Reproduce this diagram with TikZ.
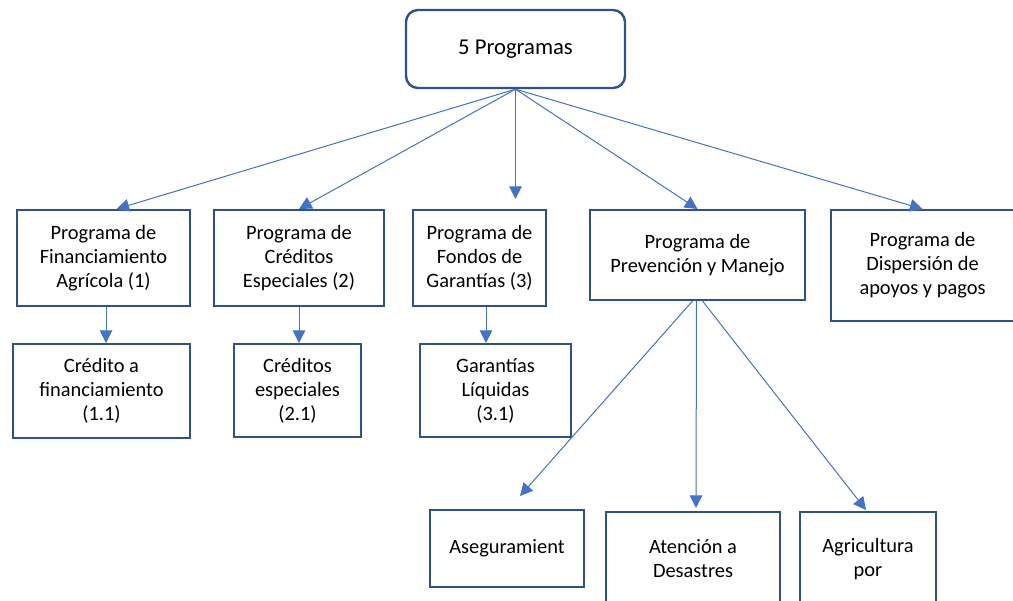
\documentclass[tikz,border=0pt]{standalone}
\usepackage{fontspec}
\setmainfont{Carlito}
\usetikzlibrary{arrows.meta,calc}

\definecolor{boxblue}{HTML}{2F528F}
\definecolor{lineblue}{HTML}{4472C4}

\tikzset{
  prog/.style={draw=boxblue, line width=1.5pt, align=center, inner sep=0pt,
    font=\fontsize{15.3pt}{18pt}\selectfont},
  arr/.style={draw=lineblue, line width=0.75pt, -{Triangle[length=9.5pt,width=9.5pt]}}
}

\begin{document}
\begin{tikzpicture}[x=0.75pt,y=0.75pt,yscale=-1,xscale=1]
    \useasboundingbox (0,0) rectangle (1013,600);
    \clip (0,0) rectangle (1013,600);

    % Top Node
    \node (top) [prog, rounded corners=9pt, line width=1.8pt, minimum width=164.25pt, minimum height=58.5pt,
      font=\fontsize{17pt}{20pt}\selectfont] at (515.5,49) {5 Programas};

    % Programas
    \node (b1) [prog, minimum width=129.75pt, minimum height=72pt] at (103.5,258)
      {Programa de\\Financiamiento\\Agrícola (1)};
    \node (b2) [prog, minimum width=127.5pt, minimum height=72pt] at (299,258)
      {Programa de\\Créditos\\Especiales (2)};
    \node (b3) [prog, minimum width=99.75pt, minimum height=72pt] at (479.5,258)
      {Programa de\\Fondos de\\Garantías (3)};
    \node (b4) [prog, minimum width=161.25pt, minimum height=67.5pt] at (697.5,255)
      {Programa de\\Prevención y Manejo};
    \node (b5) [prog, minimum width=137.25pt, minimum height=83.25pt] at (922.5,265.5)
      {Programa de\\Dispersión de\\apoyos y pagos};

    % Subprogramas
    \node (c1) [prog, minimum width=132.75pt, minimum height=70.5pt] at (101.5,391)
      {Crédito a\\financiamiento\\(1.1)};
    \node (c2) [prog, minimum width=95.25pt, minimum height=69.75pt] at (297.5,390.5)
      {Créditos\\especiales\\(2.1)};
    \node (c3) [prog, minimum width=113.25pt, minimum height=69.75pt] at (495.5,390.5)
      {Garantías\\Líquidas\\(3.1)};
    \node (d1) [prog, minimum width=115.5pt, minimum height=57.75pt] at (507,548.5)
      {Aseguramient};
    \node (d2) [prog, minimum width=130.5pt, minimum height=70.5pt] at (693,559)
      {Atención a\\Desastres};
    \node (d3) [prog, minimum width=102pt, minimum height=70.5pt] at (868,559)
      {Agricultura\\por};

    % Arrows from top
    \draw [arr] (top.south) -- ($(b1.north)+(13,0)$);
    \draw [arr] (top.south) -- (b2.north);
    \draw [arr, shorten >=7.5pt] (top.south) -- (top.south |- b3.north);
    \draw [arr] (top.south) -- (b4.north);
    \draw [arr] (top.south) -- (b5.north);

    % Arrows to subprogramas
    \coordinate (b1o) at ($(b1.south)+(2.5,0)$);
    \coordinate (b3o) at ($(b3.south)+(6.5,0)$);
    \draw [arr] (b1o) -- (b1o |- c1.north);
    \draw [arr] (b2.south) -- (b2.south |- c2.north);
    \draw [arr] (b3o) -- (b3o |- c3.north);
    \draw [arr] ($(b4.south)+(-5,0)$) -- ($(d1.north)+(13,-13)$);
    \draw [arr] ($(b4.south)+(-1,0)$) -- ($(d2.north)+(3,-3)$);
    \draw [arr] ($(b4.south)+(5,0)$) -- ($(d3.north)+(-2,-1)$);

\end{tikzpicture}
\end{document}
